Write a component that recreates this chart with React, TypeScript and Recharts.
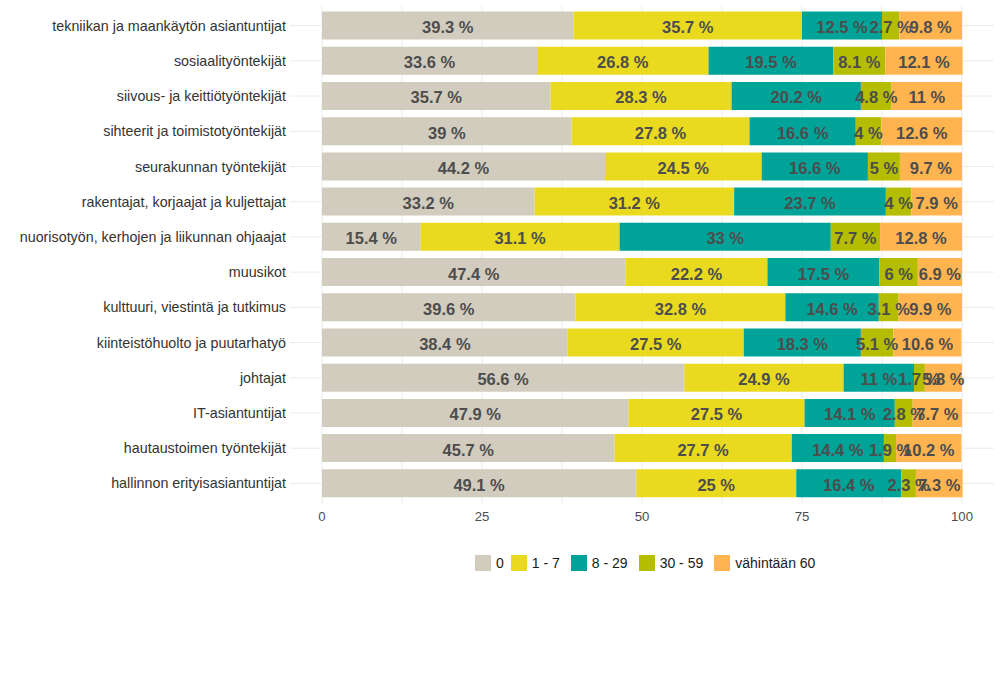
import React from "react";
import {
  BarChart,
  Bar,
  XAxis,
  YAxis,
  CartesianGrid,
  Legend,
  LabelList,
} from "recharts";

const categories = [
  "tekniikan ja maankäytön asiantuntijat",
  "sosiaalityöntekijät",
  "siivous- ja keittiötyöntekijät",
  "sihteerit ja toimistotyöntekijät",
  "seurakunnan työntekijät",
  "rakentajat, korjaajat ja kuljettajat",
  "nuorisotyön, kerhojen ja liikunnan ohjaajat",
  "muusikot",
  "kulttuuri, viestintä ja tutkimus",
  "kiinteistöhuolto ja puutarhatyö",
  "johtajat",
  "IT-asiantuntijat",
  "hautaustoimen työntekijät",
  "hallinnon erityisasiantuntijat",
];

const s0 = [39.3, 33.6, 35.7, 39, 44.2, 33.2, 15.4, 47.4, 39.6, 38.4, 56.6, 47.9, 45.7, 49.1];
const s1to7 = [35.7, 26.8, 28.3, 27.8, 24.5, 31.2, 31.1, 22.2, 32.8, 27.5, 24.9, 27.5, 27.7, 25];
const s8to29 = [12.5, 19.5, 20.2, 16.6, 16.6, 23.7, 33, 17.5, 14.6, 18.3, 11, 14.1, 14.4, 16.4];
const s30to59 = [2.7, 8.1, 4.8, 4, 5, 4, 7.7, 6, 3.1, 5.1, 1.7, 2.8, 1.9, 2.3];
const s60plus = [9.8, 12.1, 11, 12.6, 9.7, 7.9, 12.8, 6.9, 9.9, 10.6, 5.8, 7.7, 10.2, 7.3];

// minor lines at the half steps, labels only on the major ones
const xTicks = [0, 12.5, 25, 37.5, 50, 62.5, 75, 87.5, 100];
const xTickLabels = [0, 25, 50, 75, 100];

const series = [
  { key: "a", name: "0", color: "#d2ccbf", values: s0 },
  { key: "b", name: "1 - 7", color: "#e9da20", values: s1to7 },
  { key: "c", name: "8 - 29", color: "#00a398", values: s8to29 },
  { key: "d", name: "30 - 59", color: "#b5bd00", values: s30to59 },
  { key: "e", name: "vähintään 60", color: "#ffb450", values: s60plus },
];

const data = categories.map((name, i) => {
  const row: { [k: string]: string | number } = { name };
  series.forEach((s) => {
    row[s.key] = s.values[i];
  });
  return row;
});

const font = "'Liberation Sans', Arial, sans-serif";

function SegmentLabel(props: any) {
  const { x, y, width, height, value } = props;
  return (
    <text
      x={x + width / 2}
      y={y + height / 2 + 1.5}
      textAnchor="middle"
      dominantBaseline="central"
      fill="#4d4d4d"
      fontSize={16.5}
      fontWeight="bold"
      fontFamily={font}
    >
      {`${value} %`}
    </text>
  );
}

function LegendContent() {
  return (
    <div style={{ display: "flex", alignItems: "center", fontFamily: font, fontSize: 14, color: "#1a1a1a", whiteSpace: "nowrap" }}>
      {series.map((s) => (
        <div key={s.key} style={{ display: "flex", alignItems: "center", marginRight: s.name.length === 1 ? 7 : 11 }}>
          <span style={{ width: 16, height: 16, background: s.color, display: "inline-block", marginRight: 5 }} />
          <span>{s.name}</span>
        </div>
      ))}
    </div>
  );
}

export default function App() {
  return (
    <div style={{ position: "absolute", left: 0, top: 0, width: 1000, height: 700, background: "#fff" }}>
      <BarChart
        width={1000}
        height={700}
        data={data}
        layout="vertical"
        margin={{ top: 5, right: 6, left: 0, bottom: 150 }}
        barCategoryGap="10%"
      >
        <CartesianGrid stroke="#ebebeb" strokeWidth={1} syncWithTicks />
        <XAxis
          type="number"
          domain={[-5, 105]}
          ticks={xTicks}
          tickFormatter={(v: number) => (xTickLabels.includes(v) ? String(v) : "")}
          axisLine={false}
          tickLine={false}
          height={30}
          tick={{ fill: "#4d4d4d", fontSize: 13.2, fontFamily: font }}
        />
        <YAxis
          type="category"
          dataKey="name"
          width={290}
          axisLine={false}
          tickLine={false}
          tickSize={2}
          tickMargin={2}
          interval={0}
          padding={{ top: 3, bottom: 3 }}
          tick={{ fill: "#333333", fontSize: 14.3, fontFamily: font }}
        />
        <Legend
          verticalAlign="bottom"
          content={<LegendContent />}
          wrapperStyle={{ top: 555, bottom: "auto", left: 475, width: "auto", height: 16 }}
        />
        {series.map((s) => (
          <Bar key={s.key} dataKey={s.key} name={s.name} stackId="x" fill={s.color} isAnimationActive={false}>
            <LabelList dataKey={s.key} content={<SegmentLabel />} />
          </Bar>
        ))}
      </BarChart>
    </div>
  );
}
